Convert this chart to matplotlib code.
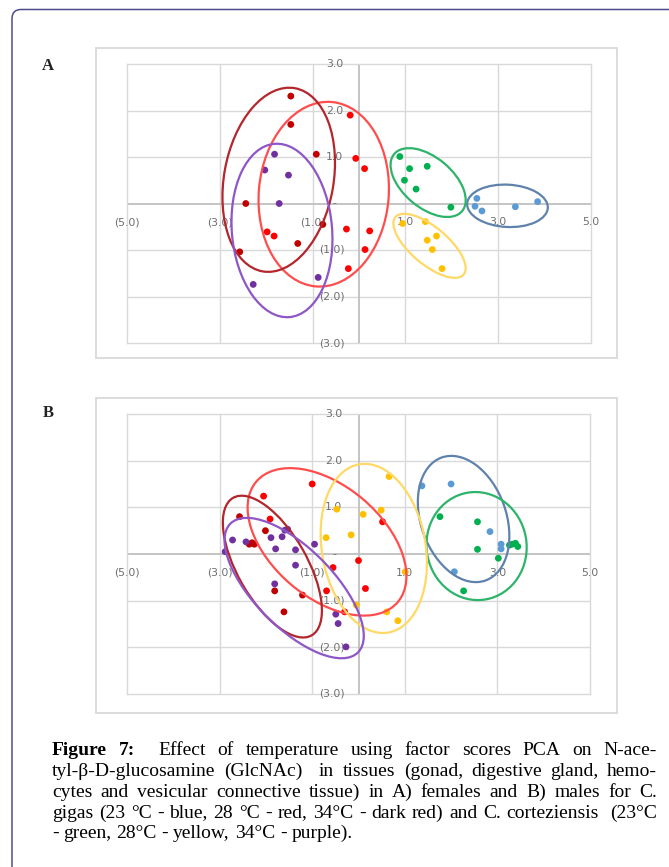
import matplotlib
matplotlib.use("Agg")
import matplotlib.pyplot as plt
from matplotlib.patches import Ellipse, Rectangle, FancyBboxPatch

W, H = 669, 867
DPI = 100

# ---------------- data: panel A (females) ----------------
A_blue_x = [2.54, 2.50, 2.65, 3.37, 3.85]
A_blue_y = [0.11, -0.06, -0.16, -0.07, 0.04]
A_red_x = [-0.19, -0.07, 0.12, -0.27, 0.23, 0.13, -0.23, -1.98, -1.83]
A_red_y = [1.90, 0.97, 0.75, -0.55, -0.59, -0.99, -1.40, -0.61, -0.70]
A_darkred_x = [-1.47, -1.47, -0.92, -2.44, -1.32, -2.57, -0.78]
A_darkred_y = [2.31, 1.70, 1.06, 0.00, -0.86, -1.04, -0.45]
A_green_x = [0.88, 1.09, 1.47, 0.98, 1.23, 1.98]
A_green_y = [1.01, 0.75, 0.80, 0.50, 0.31, -0.08]
A_yellow_x = [0.94, 1.43, 1.67, 1.47, 1.58, 1.79]
A_yellow_y = [-0.43, -0.39, -0.70, -0.79, -0.99, -1.40]
A_purple_x = [-1.82, -2.03, -1.52, -1.72, -0.88, -2.28]
A_purple_y = [1.06, 0.72, 0.61, 0.00, -1.59, -1.74]

# ellipses: (cx, cy, width, height, angle)
A_ell_blue = (3.20, -0.05, 1.74, 0.91, -3)
A_ell_red = (-0.76, 0.20, 3.98, 2.80, 85)
A_ell_darkred = (-1.73, 0.51, 4.00, 2.36, 80)
A_ell_green = (1.49, 0.45, 1.91, 1.08, -40)
A_ell_yellow = (1.52, -0.91, 1.92, 0.80, -40)
A_ell_purple = (-1.66, -0.58, 3.74, 2.16, 95)

# ---------------- data: panel B (males) ----------------
B_blue_x = [1.37, 2.00, 2.84, 3.08, 3.08, 2.07]
B_blue_y = [1.46, 1.50, 0.48, 0.21, 0.11, -0.38]
B_red_x = [-1.00, -2.05, -1.91, 0.52, 0.00, -0.55, 0.15, -0.69, -0.30]
B_red_y = [1.50, 1.24, 0.75, 0.69, -0.14, -0.29, -0.74, -0.79, -1.24]
B_darkred_x = [-2.57, -2.01, -2.36, -2.25, -2.30, -1.81, -1.61, -1.21]
B_darkred_y = [0.80, 0.50, 0.21, 0.21, 0.24, -0.79, -1.24, -0.88]
B_green_x = [1.76, 2.57, 2.57, 3.02, 3.32, 3.39, 3.44, 3.26, 2.27]
B_green_y = [0.80, 0.69, 0.10, -0.09, 0.21, 0.23, 0.16, 0.19, -0.79]
B_yellow_x = [0.66, -0.47, 0.49, 0.10, -0.16, -0.70, 1.01, -0.05, 0.61, 0.85]
B_yellow_y = [1.66, 0.96, 0.94, 0.85, 0.41, 0.35, -0.38, -1.09, -1.24, -1.43]
B_purple_x = [-2.88, -2.72, -2.43, -1.89, -1.79, -1.65, -1.59, -1.53, -1.36,
              -1.36, -0.95, -1.81, -0.49, -0.44, -0.27]
B_purple_y = [0.05, 0.30, 0.26, 0.35, 0.11, 0.37, 0.51, 0.53, 0.09,
              -0.24, 0.21, -0.64, -1.29, -1.49, -1.99]

B_ell_blue = (2.27, 0.75, 2.80, 1.84, 110)
B_ell_red = (-0.68, 0.26, 4.00, 2.40, -40)
B_ell_darkred = (-1.86, -0.27, 3.40, 1.50, 120)
B_ell_green = (2.55, 0.17, 2.32, 2.16, 100)
B_ell_yellow = (0.33, 0.12, 3.66, 2.24, 100)
B_ell_purple = (-1.39, -0.73, 3.90, 1.70, -45)

x_ticks = [-5, -3, -1, 1, 3, 5]
x_tick_labels = ["(5.0)", "(3.0)", "(1.0)", "1.0", "3.0", "5.0"]
y_ticks = [3, 2, 1, 0, -1, -2, -3]
y_tick_labels = ["3.0", "2.0", "1.0", "-", "(1.0)", "(2.0)", "(3.0)"]

caption_lines = [
    [("Figure", "bold"), ("7:", "bold"), ("", None), ("Effect", None), ("of", None),
     ("temperature", None), ("using", None), ("factor", None), ("scores", None),
     ("PCA", None), ("on", None), ("N-ace-", None)],
    "tyl-\u03b2-D-glucosamine (GlcNAc)  in tissues (gonad, digestive gland, hemo-",
    "cytes and vesicular connective tissue) in A) females and B) males for C.",
    "gigas (23 \u00b0C - blue, 28 \u00b0C - red, 34\u00b0C - dark red) and C. corteziensis  (23\u00b0C",
    "- green, 28\u00b0C - yellow, 34\u00b0C - purple).",
]

# ---------------- colours ----------------
PT = dict(blue="#5B9BD5", red="#FF0000", darkred="#C00000", green="#00B050",
          yellow="#FFC000", purple="#7030A0")
EL = dict(blue="#5F82AD", red="#FF4D4D", darkred="#B2262C", green="#2DB36A",
          yellow="#FFD966", purple="#8E56C6")
GRID = "#D9D9D9"
AXLINE = "#BFBFBF"
LABEL = "#6E6E6E"

fig = plt.figure(figsize=(W / DPI, H / DPI), dpi=DPI)
fig.patch.set_facecolor("white")

# overlay in pixel coordinates
ov = fig.add_axes([0, 0, 1, 1], zorder=0)
ov.set_xlim(0, W)
ov.set_ylim(H, 0)
ov.axis("off")

ov.add_patch(FancyBboxPatch((12, 9.5), 720, 920,
                            boxstyle="round,pad=0,rounding_size=9",
                            fill=False, edgecolor="#4E4D8C", lw=1.1))
ov.add_patch(Rectangle((95.5, 47.5), 521.5, 310.5, fill=False, edgecolor=GRID, lw=1.3))
ov.add_patch(Rectangle((95.5, 397.5), 521.5, 315, fill=False, edgecolor=GRID, lw=1.3))

ov.text(48, 66, "A", fontsize=12, fontweight="bold", family="Liberation Serif",
        ha="center", va="center", color="#222222")
ov.text(48, 413, "B", fontsize=12, fontweight="bold", family="Liberation Serif",
        ha="center", va="center", color="#222222")


def make_panel(rect_px, data, ells):
    l, t, r, b = rect_px
    ax = fig.add_axes([l / W, 1 - b / H, (r - l) / W, (b - t) / H], zorder=2)
    ax.set_xlim(-5, 5)
    ax.set_ylim(-3, 3)
    ax.set_facecolor("white")
    ax.set_xticks([])
    ax.set_yticks([])
    for s in ax.spines.values():
        s.set_color(GRID)
        s.set_linewidth(1.0)
    for xv in x_ticks[1:-1]:
        ax.axvline(xv, color=GRID, lw=1.0, zorder=1)
    for yv in y_ticks[1:-1]:
        if yv != 0:
            ax.axhline(yv, color=GRID, lw=1.0, zorder=1)
    ax.axvline(0, color=AXLINE, lw=1.3, zorder=1.5)
    ax.axhline(0, color=AXLINE, lw=1.3, zorder=1.5)
    for xv, lab in zip(x_ticks, x_tick_labels):
        ax.annotate(lab, xy=(xv, 0), xytext=(0, -13.5), textcoords="offset points",
                    ha="center", va="center", fontsize=7.8, color=LABEL,
                    family="DejaVu Sans", annotation_clip=False, zorder=3)
    for yv, lab in zip(y_ticks, y_tick_labels):
        if lab == "-":
            dx = -16
        elif lab.startswith("("):
            dx = -10
        else:
            dx = -11.5
        ax.annotate(lab, xy=(0, yv), xytext=(dx, 0), textcoords="offset points",
                    ha="right", va="center", fontsize=7.8, color=LABEL,
                    family="DejaVu Sans", annotation_clip=False, zorder=3)
    for key, (xs, ys) in data.items():
        ax.scatter(xs, ys, s=24, color=PT[key], edgecolors="none", zorder=4)
    for key, (cx, cy, w, h, ang) in ells.items():
        ax.add_patch(Ellipse((cx, cy), w, h, angle=ang, fill=False,
                             edgecolor=EL[key], lw=1.6, zorder=5))
    return ax


make_panel((127, 64, 591, 343),
           dict(blue=(A_blue_x, A_blue_y), red=(A_red_x, A_red_y),
                darkred=(A_darkred_x, A_darkred_y), green=(A_green_x, A_green_y),
                yellow=(A_yellow_x, A_yellow_y), purple=(A_purple_x, A_purple_y)),
           dict(blue=A_ell_blue, red=A_ell_red, darkred=A_ell_darkred,
                green=A_ell_green, yellow=A_ell_yellow, purple=A_ell_purple))

make_panel((127, 414, 590, 694),
           dict(blue=(B_blue_x, B_blue_y), red=(B_red_x, B_red_y),
                darkred=(B_darkred_x, B_darkred_y), green=(B_green_x, B_green_y),
                yellow=(B_yellow_x, B_yellow_y), purple=(B_purple_x, B_purple_y)),
           dict(blue=B_ell_blue, red=B_ell_red, darkred=B_ell_darkred,
                green=B_ell_green, yellow=B_ell_yellow, purple=B_ell_purple))

# ---------------- justified caption ----------------
renderer = fig.canvas.get_renderer()
CAP_FONT = dict(family="Liberation Serif", fontsize=14, color="black")
LEFT, RIGHT = 52, 657
baselines = [755, 776, 797, 817.5, 838]


def tokens_of(line):
    if isinstance(line, list):
        return line
    out = []
    for part in line.split(" "):
        out.append((part, None))
    return out


for i, line in enumerate(caption_lines):
    toks = tokens_of(line)
    # empty tokens represent an extra space (double space)
    words = []
    weights = []
    pending = 0
    for txt, wt in toks:
        if txt == "":
            pending += 1
            continue
        if words:
            weights.append(1 + pending)
        pending = 0
        words.append((txt, wt))
    items = []
    total = 0.0
    for txt, wt in words:
        t = ov.text(0, baselines[i], txt, ha="left", va="baseline",
                    fontweight=(wt or "normal"), **CAP_FONT)
        bb = t.get_window_extent(renderer=renderer)
        items.append((t, bb.width))
        total += bb.width
    sp = ov.text(0, 0, "a a", **CAP_FONT)
    sp2 = ov.text(0, 0, "aa", **CAP_FONT)
    space_w = sp.get_window_extent(renderer=renderer).width - \
        sp2.get_window_extent(renderer=renderer).width
    sp.remove()
    sp2.remove()
    justify = i < len(caption_lines) - 1
    if justify:
        unit = (RIGHT - LEFT - total) / sum(weights)
    else:
        unit = space_w
    x = LEFT
    for k, (t, wdt) in enumerate(items):
        t.set_x(x)
        x += wdt
        if k < len(weights):
            x += unit * weights[k]

fig.savefig("out.png", dpi=DPI, facecolor="white")
